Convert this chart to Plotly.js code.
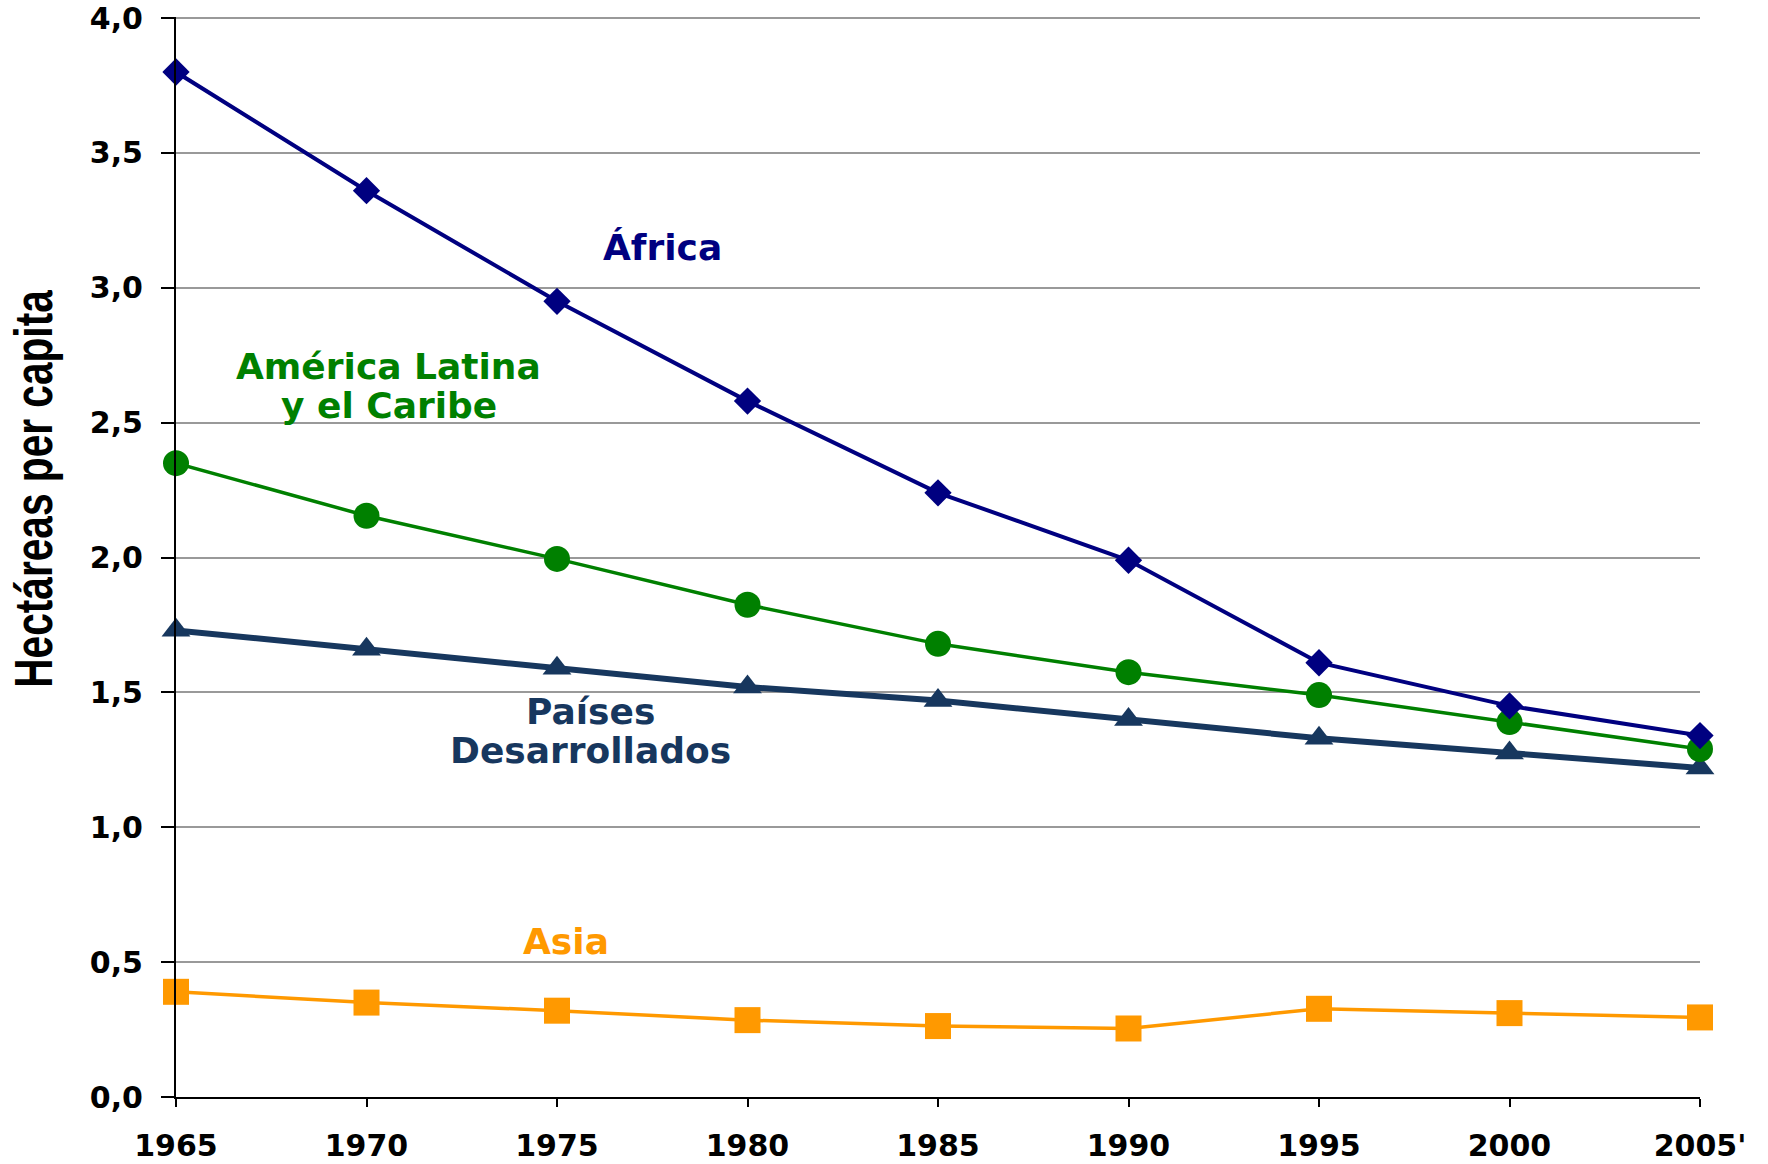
<!DOCTYPE html>
<html>
<head>
<meta charset="utf-8">
<script src="https://cdn.plot.ly/plotly-3.0.1.min.js"></script>
<style>html,body{margin:0;padding:0;background:#fff;}#chart{width:1768px;height:1164px;}</style>
</head>
<body>
<div id="chart"></div>
<script>
const years = [1965, 1970, 1975, 1980, 1985, 1990, 1995, 2000, 2005];
const yearLabels = ["1965", "1970", "1975", "1980", "1985", "1990", "1995", "2000", "2005'"];
const africa = [3.80, 3.36, 2.95, 2.58, 2.24, 1.99, 1.61, 1.45, 1.34];
const latinAmerica = [2.35, 2.155, 1.995, 1.825, 1.68, 1.575, 1.49, 1.39, 1.29];
const developed = [1.73, 1.66, 1.59, 1.52, 1.47, 1.40, 1.33, 1.275, 1.22];
const asia = [0.39, 0.35, 0.32, 0.285, 0.263, 0.254, 0.327, 0.311, 0.295];
const yTicks = [0, 0.5, 1, 1.5, 2, 2.5, 3, 3.5, 4];
const yTickLabels = ["0,0", "0,5", "1,0", "1,5", "2,0", "2,5", "3,0", "3,5", "4,0"];
const seriesNames = ["África", "América Latina y el Caribe", "Países Desarrollados", "Asia"];
const yTitle = "Hectáreas per capita";

const bold = "DejaVu Sans, sans-serif";

const traces = [
  {x: years, y: asia, name: seriesNames[3], mode: "lines+markers", cliponaxis: false,
   line: {color: "#FF9900", width: 3.5}, marker: {symbol: "square", size: 26, color: "#FF9900"}},
  {x: years, y: developed, name: seriesNames[2], mode: "lines+markers", cliponaxis: false,
   line: {color: "#17375E", width: 6}, marker: {symbol: "triangle-up", size: 25, color: "#17375E"}},
  {x: years, y: latinAmerica, name: seriesNames[1], mode: "lines+markers", cliponaxis: false,
   line: {color: "#008000", width: 3.5}, marker: {symbol: "circle", size: 26, color: "#008000"}},
  {x: years, y: africa, name: seriesNames[0], mode: "lines+markers", cliponaxis: false,
   line: {color: "#000080", width: 4}, marker: {symbol: "diamond", size: 21, color: "#000080"}}
];

function ann(text, x, y, color) {
  return {text: text, x: x, y: y, xref: "x", yref: "y", showarrow: false,
    xanchor: "center", yanchor: "middle",
    font: {family: bold, size: 36, color: color, weight: "bold"}};
}

const layout = {
  width: 1768, height: 1164,
  margin: {l: 176, r: 68, t: 17, b: 67},
  paper_bgcolor: "#ffffff", plot_bgcolor: "#ffffff",
  showlegend: false,
  font: {family: bold, color: "#000000"},
  xaxis: {
    range: [1965, 2005], tickvals: years, ticktext: yearLabels,
    showgrid: false, zeroline: false, showline: true, linecolor: "#000000", linewidth: 2,
    ticks: "outside", ticklen: 8, tickwidth: 2, tickcolor: "#000000",
    ticklabelstandoff: 13,
    tickfont: {family: bold, size: 30, color: "#000000", weight: "bold"}
  },
  yaxis: {
    range: [0, 4.004], tickvals: yTicks, ticktext: yTickLabels,
    showgrid: true, gridcolor: "#999999", gridwidth: 2,
    zeroline: false, showline: true, linecolor: "#000000", linewidth: 2,
    ticks: "outside", ticklen: 13, tickwidth: 2, tickcolor: "#000000",
    ticklabelstandoff: 12,
    tickfont: {family: bold, size: 30, color: "#000000", weight: "bold"},
    title: {text: yTitle, standoff: 20,
      font: {family: "Liberation Sans, Arial, sans-serif", size: 53, color: "#000000", weight: "bold"}}
  },
  annotations: [
    ann("África", 1977.78, 3.151, "#000080"),
    ann("América Latina", 1970.57, 2.710, "#008000"),
    ann("y el Caribe", 1970.6, 2.565, "#008000"),
    ann("Países", 1975.87, 1.431, "#17375E"),
    ann("Desarrollados", 1975.87, 1.286, "#17375E"),
    ann("Asia", 1975.24, 0.575, "#FF9900")
  ]
};

// condensed look of the axis title (length along reading direction, centre height)
const titleLength = 398, titleCentreY = 489;

Plotly.newPlot("chart", traces, layout, {displayModeBar: false, staticPlot: true}).then(function (gd) {
  const t = gd.querySelector(".ytitle");
  if (!t) return;
  const x = parseFloat(t.getAttribute("x")), y = parseFloat(t.getAttribute("y"));
  const w = t.getBBox().width;
  const s = titleLength / w;
  t.setAttribute("transform",
    "translate(0," + (titleCentreY - y) + ") rotate(-90," + x + "," + y + ") translate(" + x + "," + y + ") scale(" + s + ",1) translate(" + (-x) + "," + (-y) + ")");
});
</script>
</body>
</html>
